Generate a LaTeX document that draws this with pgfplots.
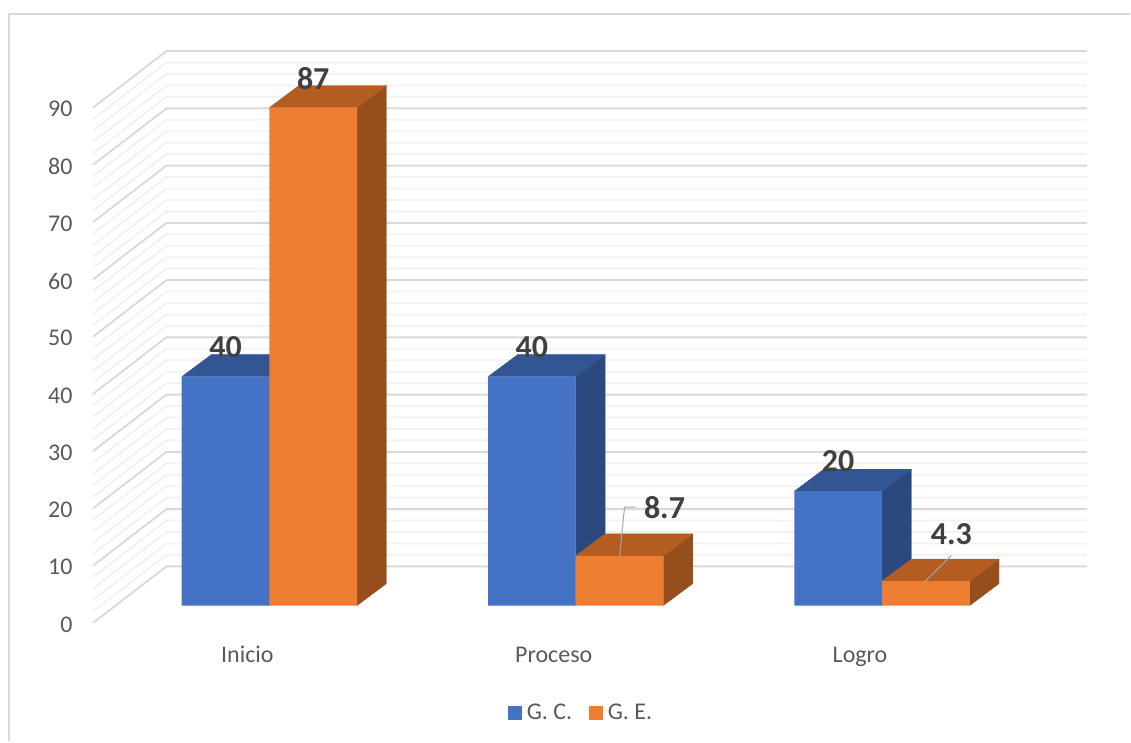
\documentclass[border=0pt]{standalone}
\usepackage{fontspec}
\setmainfont{Carlito}
\usepackage{pgfplots}
\usepackage{pgfplotstable}
\pgfplotsset{compat=1.18}

\definecolor{gcfront}{HTML}{4472C4}
\definecolor{gctop}{HTML}{335593}
\definecolor{gcside}{HTML}{2A4A7F}
\definecolor{gefront}{HTML}{ED7D31}
\definecolor{getop}{HTML}{B35D20}
\definecolor{geside}{HTML}{964F1C}
\definecolor{gridmajor}{HTML}{D9D9D9}
\definecolor{gridminor}{HTML}{F2F2F2}
\definecolor{ticktext}{HTML}{595959}
\definecolor{valuetext}{HTML}{404040}
\definecolor{leader}{HTML}{A6A6A6}

% Share of each group per level
\pgfplotstableread{
idx gc ge
0   40 87
1   40 8.7
2   20 4.3
}\levels

% Depth of a bar along x (category units) and y (value units)
\def\bardx{0.0962}
\def\bardy{3.84}
\def\barw{0.286}

% Top and side faces of one bar; #1 left edge, #2 value, #3 top colour, #4 side colour
\newcommand\barfaces[4]{%
  \pgfmathsetmacro\xa{#1}%
  \pgfmathsetmacro\xb{#1+\barw}%
  \pgfmathsetmacro\xc{#1+\barw+\bardx}%
  \pgfmathsetmacro\xd{#1+\bardx}%
  \pgfmathsetmacro\yt{#2}%
  \pgfmathsetmacro\yu{#2+\bardy}%
  \addplot[forget plot,fill=#4,draw=#4,line width=0.2pt] coordinates
    {(\xb,0) (\xc,\bardy) (\xc,\yu) (\xb,\yt) (\xb,0)};
  \addplot[forget plot,fill=#3,draw=#3,line width=0.2pt] coordinates
    {(\xa,\yt) (\xb,\yt) (\xc,\yu) (\xd,\yu) (\xa,\yt)};
}

% Three-segment gridline: left wall, then back wall
\newcommand\gridline[2]{%
  \pgfmathsetmacro\ylo{#1-3.02}%
  \pgfmathsetmacro\yhi{#1+6.86}%
  \addplot[forget plot,#2,line width=1.4pt] coordinates
    {(-0.5756,\ylo) (-0.3359,\yhi) (2.6690,\yhi)};
}

\begin{document}
\begin{tikzpicture}
\begin{axis}[
  scale only axis,
  width=848.25pt,
  height=556.5pt,
  xmin=-0.879, xmax=2.810,
  ymin=-23.73, ymax=105.76,
  axis line style={draw=none},
  major tick length=0pt,
  minor tick num=0,
  xtick={0,1,2},
  xticklabels={Inicio,Proceso,Logro},
  xticklabel style={font=\fontsize{18}{21}\selectfont,text=ticktext,
    anchor=base,inner sep=0pt,xshift=-16.5pt,yshift=59.3pt},
  ytick={-3.02,6.98,16.98,26.98,36.98,46.98,56.98,66.98,76.98,86.98},
  yticklabels={0,10,20,30,40,50,60,70,80,90},
  yticklabel style={font=\fontsize{18}{21}\selectfont,text=ticktext,
    anchor=east,inner sep=0pt,xshift=54.5pt,yshift=-1.2pt},
  clip=false,
  /pgf/number format/assume math mode=true,
  legend columns=2,
  legend style={draw=none,fill=none,at={(rel axis cs:0.5145,0.039)},anchor=center,
    font=\fontsize{18}{21}\selectfont,text=ticktext,
    /tikz/every even column/.style={column sep=10.75pt}},
  legend cell align=left,
  legend image code/.code={\path (0pt,0pt) -- (12pt,0pt);\fill[#1] (0pt,-5.25pt) rectangle (10.5pt,5.25pt);},
]
% Outer frame of the chart area
\addplot[forget plot,gridmajor,line width=1.3pt] coordinates {(-0.850,-23.73) (-0.850,103.32) (2.810,103.32)};

% Gridlines every 2 units, the lighter ones underneath
\pgfplotsforeachungrouped \v in {2,4,6,8,12,14,16,18,22,24,26,28,32,34,36,38,42,44,46,48,52,54,56,58,62,64,66,68,72,74,76,78,82,84,86,88}{\gridline{\v}{gridminor}}
\pgfplotsforeachungrouped \v in {0,10,...,90}{\gridline{\v}{gridmajor}}

% Depth faces of the G. C. bars
\pgfplotsforeachungrouped \i in {0,1,2}{%
  \pgfplotstablegetelem{\i}{gc}\of\levels
  \let\val\pgfplotsretval
  \barfaces{\i-\barw}{\val}{gctop}{gcside}%
}
\addplot[ybar,fill=gcfront,draw=none,bar width=65.8pt,
  /pgf/bar shift=-32.9pt,
  nodes near coords,
  every node near coord/.append style={font=\fontsize{24}{28}\bfseries,text=valuetext,
    anchor=center,inner sep=0pt,xshift=-32.9pt,yshift=22.3pt},
] table[x=idx,y=gc]{\levels};
\addlegendentry{G. C.}

% Depth faces of the G. E. bars
\pgfplotsforeachungrouped \i in {0,1,2}{%
  \pgfplotstablegetelem{\i}{ge}\of\levels
  \let\val\pgfplotsretval
  \barfaces{\i}{\val}{getop}{geside}%
}
\addplot[ybar,fill=gefront,draw=none,bar width=65.8pt,
  /pgf/bar shift=32.9pt,
  nodes near coords,
  every node near coord/.append style={font=\fontsize{24}{28}\bfseries,text=valuetext,
    anchor=center,inner sep=0pt,xshift=32.9pt,yshift=22pt},
  coordinate style/.condition={y<6}{xshift=19.2pt,yshift=13.5pt},
  coordinate style/.condition={y>6 && y<10}{xshift=33.75pt,yshift=14pt},
] table[x=idx,y=ge]{\levels};
\addlegendentry{G. E.}

% Leader lines of the two small labels
\addplot[forget plot,leader,line width=0.75pt] coordinates {(1.1432,8.60) (1.1595,17.19) (1.1954,17.19)};
\addplot[forget plot,leader,line width=0.75pt] coordinates {(2.1403,4.24) (2.2262,8.73)};
\end{axis}
\end{tikzpicture}
\end{document}
